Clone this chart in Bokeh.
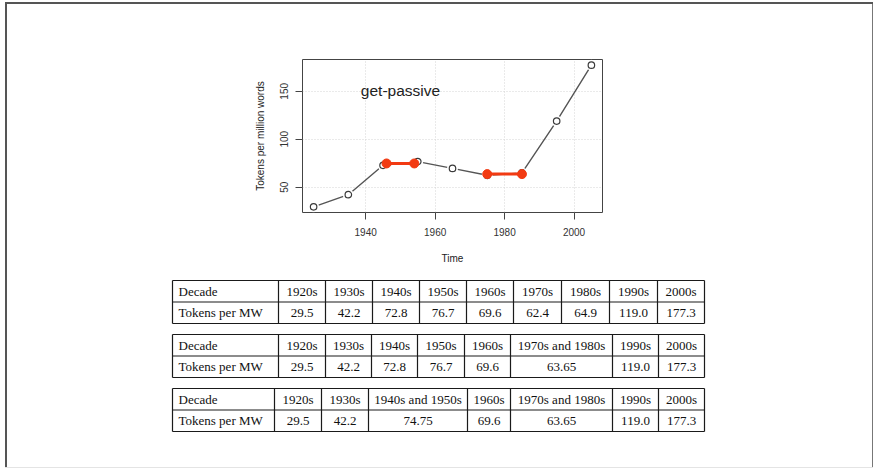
from bokeh.plotting import figure
from bokeh.models import Range1d, ColumnDataSource
from bokeh.layouts import column
from bokeh.embed import file_html
from bokeh.resources import INLINE
from bokeh.core.properties import value

# ---------------- data ----------------
decades = ["1920s", "1930s", "1940s", "1950s", "1960s", "1970s", "1980s", "1990s", "2000s"]
years = [1925, 1935, 1945, 1955, 1965, 1975, 1985, 1995, 2005]
tokens = [29.5, 42.2, 72.8, 76.7, 69.6, 62.4, 64.9, 119.0, 177.3]
merged_labels = ["1940s and 1950s", "1970s and 1980s"]
merged_years = [[1946, 1954], [1975, 1985]]
merged_tokens = [74.75, 63.65]
row_labels = ["Decade", "Tokens per MW"]
x_ticks = [1940, 1960, 1980, 2000]
y_ticks = [50, 100, 150]
chart_label = "get-passive"
x_title = "Time"
y_title = "Tokens per million words"

RED = "#f23a12"
SANS = "Liberation Sans"
SERIF = "Liberation Serif"
W, H_TOP, H_BOT = 874, 270, 198

# ---------------- chart ----------------
p = figure(width=W, height=H_TOP,
           x_range=Range1d(1921.8, 2008.2), y_range=Range1d(23.6, 183.2),
           output_backend="svg", toolbar_location=None,
           min_border_left=302, min_border_right=272,
           min_border_top=59, min_border_bottom=58)
p.frame_align = False
p.border_fill_color = None
p.background_fill_color = "white"
p.outline_line_color = "#444444"
p.outline_line_width = 1

p.xaxis.ticker = x_ticks
p.yaxis.ticker = y_ticks
for ax in (p.xaxis[0], p.yaxis[0]):
    ax.axis_line_color = None
    ax.major_tick_line_color = "#444444"
    ax.major_tick_out = 7
    ax.major_tick_in = 0
    ax.minor_tick_line_color = None
    ax.major_label_text_font = SANS
    ax.major_label_text_font_size = "10px"
    ax.major_label_text_color = "#333333"
    ax.axis_label_text_font = SANS
    ax.axis_label_text_font_size = "10px"
    ax.axis_label_text_font_style = "normal"
    ax.axis_label_text_color = "#222222"
p.xaxis.axis_label = x_title
p.yaxis.axis_label = y_title
p.xaxis.major_label_standoff = 8
p.xaxis.axis_label_standoff = 14
p.yaxis.major_label_orientation = "vertical"
p.yaxis.major_label_standoff = 7
p.yaxis.axis_label_standoff = 12

for g in (p.xgrid[0], p.ygrid[0]):
    g.grid_line_color = "#d4d4d4"
    g.grid_line_dash = "1 2"
    g.grid_line_width = 1

src = ColumnDataSource(dict(x=years, y=tokens))
p.line("x", "y", source=src, line_color="#555555", line_width=1.4)
p.scatter("x", "y", source=src, size=11, fill_color="white", line_color=None)
p.scatter("x", "y", source=src, size=6.5, fill_color="white",
          line_color="#3a3a3a", line_width=1.2)

red_xs = [xs for xs in merged_years]
red_ys = [[v, v] for v in merged_tokens]
p.multi_line(red_xs, red_ys, line_color=RED, line_width=3)
p.scatter([x for xs in red_xs for x in xs], [y for ys in red_ys for y in ys],
          size=9, fill_color=RED, line_color=RED)

p.text(x=[1938.6], y=[150.7], text=[chart_label], text_font=value(SANS),
       text_font_size="15.5px", text_color="#222222",
       text_align="left", text_baseline="middle")

# ---------------- tables ----------------
t = figure(width=W, height=H_BOT,
           x_range=Range1d(0, W), y_range=Range1d(H_TOP + H_BOT, H_TOP),
           output_backend="svg", toolbar_location=None, min_border=0)
t.frame_align = False
t.axis.visible = False
t.grid.visible = False
t.outline_line_color = None
t.border_fill_color = None
t.background_fill_color = None

vals_fmt = [f"{v:.1f}" for v in tokens]
tables = [
    (decades, vals_fmt),
    (decades[:5] + [merged_labels[1]] + decades[7:],
     vals_fmt[:5] + [f"{merged_tokens[1]}"] + vals_fmt[7:]),
    (decades[:2] + [merged_labels[0]] + [decades[4]] + [merged_labels[1]] + decades[7:],
     vals_fmt[:2] + [f"{merged_tokens[0]}"] + [vals_fmt[4]] + [f"{merged_tokens[1]}"] + vals_fmt[7:]),
]
# layout (cell edges, page px)
edges = [
    [172, 278, 325, 372, 419, 466, 513, 561, 609, 657, 704],
    [172, 278, 325, 371, 417, 464, 510, 612, 658, 704],
    [172, 274, 321, 368, 467, 510, 612, 658, 704],
]
tops = [280, 334, 388]
row_h = 21.5

sx0, sy0, sx1, sy1 = [], [], [], []
lx, ly, ltxt = [], [], []
cx, cy, ctxt = [], [], []
for (heads, vals), ed, top in zip(tables, edges, tops):
    for k in range(3):
        yy = top + k * row_h
        sx0.append(ed[0]); sx1.append(ed[-1]); sy0.append(yy); sy1.append(yy)
    for e in ed:
        sx0.append(e); sx1.append(e); sy0.append(top); sy1.append(top + 2 * row_h)
    for r, lab in enumerate(row_labels):
        lx.append(ed[0] + 6); ly.append(top + row_h * (r + 0.5)); ltxt.append(lab)
    for i, (h, v) in enumerate(zip(heads, vals)):
        xc = (ed[i + 1] + ed[i + 2]) / 2
        cx += [xc, xc]
        cy += [top + row_h * 0.5, top + row_h * 1.5]
        ctxt += [h, v]

t.segment(sx0, sy0, sx1, sy1, line_color="#1a1a1a", line_width=1.2)
t.text(lx, ly, text=ltxt, text_font=value(SERIF), text_font_size="13px",
       text_color="#111111", text_align="left", text_baseline="middle")
t.text(cx, cy, text=ctxt, text_font=value(SERIF), text_font_size="13px",
       text_color="#111111", text_align="center", text_baseline="middle")

frame_css = ", ".join([
    "inset 5px 0 0 0 #ffffff",
    "inset 0 2px 0 0 #ffffff",
    "inset -1px 0 0 0 #ffffff",
    "inset 0 -1px 0 0 #e4e4e4",
    "inset 7px 0 0 0 #555555",
    "inset 0 4px 0 0 #555555",
    "inset -2px 0 0 0 #777777",
])
layout = column(p, t, spacing=0, styles={"box-shadow": frame_css})

open("out.html", "w").write(file_html(layout, INLINE))
